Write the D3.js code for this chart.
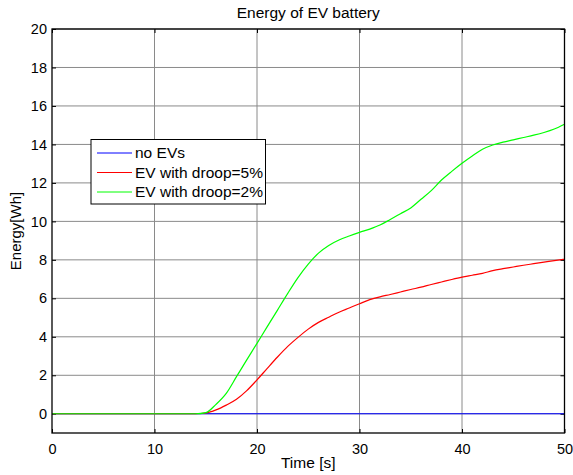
<!DOCTYPE html>
<html>
<head>
<meta charset="utf-8">
<script src="https://cdn.jsdelivr.net/npm/d3@7"></script>
<style>
  html, body { margin: 0; padding: 0; background: #fff; }
  svg { display: block; font-family: "Liberation Sans", Arial, sans-serif; }
</style>
</head>
<body>
<svg id="chart" width="573" height="475"></svg>
<script>
// Simulation time [s], sampled every second
const time = d3.range(0, 51, 1);

// Stored battery energy [Wh]
const noEVs = time.map(() => 0);
const droop5 = [0,0,0,0,0,0,0,0,0,0,0,0,0,0,0,
  0.04,0.2,0.45,0.75,1.2,1.76,2.36,2.95,3.5,3.97,4.4,4.75,5.02,5.28,5.5,
  5.72,5.93,6.08,6.2,6.33,6.46,6.58,6.72,6.85,6.98,7.1,7.2,7.3,7.44,7.54,
  7.63,7.72,7.8,7.88,7.96,8.03];
const droop2 = [0,0,0,0,0,0,0,0,0,0,0,0,0,0,0,
  0.06,0.49,1.06,1.93,2.8,3.66,4.53,5.39,6.26,7.08,7.78,8.35,8.75,9.03,9.24,
  9.43,9.6,9.81,10.1,10.4,10.7,11.15,11.6,12.15,12.6,13.02,13.4,13.75,13.97,14.12,
  14.24,14.36,14.48,14.62,14.8,15.05];

const seriesNames = ["no EVs", "EV with droop=5%", "EV with droop=2%"];
const seriesColors = ["#0000ff", "#ff0000", "#00ff00"];
const seriesValues = [noEVs, droop5, droop2];

const xTicks = [0, 10, 20, 30, 40, 50];
const yTicks = [0, 2, 4, 6, 8, 10, 12, 14, 16, 18, 20];

const margin = { top: 29, right: 8.5, bottom: 42, left: 52 };
const W = 573, H = 475;
const innerW = W - margin.left - margin.right;
const innerH = H - margin.top - margin.bottom;

const svg = d3.select("#chart");
const g = svg.append("g").attr("transform", `translate(${margin.left},${margin.top})`);

const x = d3.scaleLinear().domain([0, 50]).range([0, innerW]);
const y = d3.scaleLinear().domain([-1, 20]).range([innerH, 0]);

// Grid
g.append("g").selectAll("line").data(xTicks.slice(1, -1)).join("line")
  .attr("x1", d => x(d)).attr("x2", d => x(d))
  .attr("y1", 0).attr("y2", innerH)
  .attr("stroke", "#8a8a8a").attr("stroke-width", 1);
g.append("g").selectAll("line").data(yTicks).join("line")
  .attr("x1", 0).attr("x2", innerW)
  .attr("y1", d => y(d)).attr("y2", d => y(d))
  .attr("stroke", "#8a8a8a").attr("stroke-width", 1);

// Axes (ticks point inward, labels outside)
const xAxis = d3.axisBottom(x).tickValues(xTicks).tickSizeInner(-4).tickSizeOuter(0).tickPadding(11);
const yAxis = d3.axisLeft(y).tickValues(yTicks).tickSizeInner(-4).tickSizeOuter(0).tickPadding(5);
const xTop = d3.axisTop(x).tickValues(xTicks).tickSizeInner(-4).tickSizeOuter(0).tickFormat("");
const yRight = d3.axisRight(y).tickValues(yTicks).tickSizeInner(-4).tickSizeOuter(0).tickFormat("");

const gx = g.append("g").attr("transform", `translate(0,${innerH})`).call(xAxis);
const gy = g.append("g").call(yAxis);
g.append("g").call(xTop);
g.append("g").attr("transform", `translate(${innerW},0)`).call(yRight);

[gx, gy].forEach(a => a.selectAll("text").attr("font-size", 14.5).attr("fill", "#000")
  .attr("font-family", "Liberation Sans, Arial, sans-serif"));
g.selectAll(".domain").remove();
g.selectAll(".tick line").attr("stroke", "#000");

// Lines
const line = d3.line().x((d, i) => x(time[i])).y(d => y(d)).curve(d3.curveMonotoneX);
seriesValues.forEach((vals, k) => {
  g.append("path").datum(vals)
    .attr("d", line)
    .attr("fill", "none")
    .attr("stroke", seriesColors[k])
    .attr("stroke-width", 1.2);
});

// Axes box
g.append("rect").attr("x", 0).attr("y", 0).attr("width", innerW).attr("height", innerH)
  .attr("fill", "none").attr("stroke", "#000").attr("stroke-width", 1.3);

// Title and axis labels
svg.append("text").attr("x", margin.left + innerW / 2).attr("y", 18)
  .attr("text-anchor", "middle").attr("font-size", 15.5).text("Energy of EV battery");
svg.append("text").attr("x", margin.left + innerW / 2).attr("y", 468)
  .attr("text-anchor", "middle").attr("font-size", 15.5).text("Time [s]");
svg.append("text").attr("transform", `translate(21,${margin.top + innerH / 2}) rotate(-90)`)
  .attr("text-anchor", "middle").attr("font-size", 15).text("Energy[Wh]");

// Legend
const lg = svg.append("g").attr("transform", "translate(91,139.5)");
lg.append("rect").attr("width", 174.5).attr("height", 64.5)
  .attr("fill", "#fff").attr("stroke", "#000").attr("stroke-width", 1);
seriesNames.forEach((name, k) => {
  const yy = 13.5 + k * 19.5;
  lg.append("line").attr("x1", 6).attr("x2", 41).attr("y1", yy).attr("y2", yy)
    .attr("stroke", seriesColors[k]).attr("stroke-width", 1);
  lg.append("text").attr("x", 44).attr("y", yy + 5).attr("font-size", 15.5).text(name);
});
</script>
</body>
</html>
